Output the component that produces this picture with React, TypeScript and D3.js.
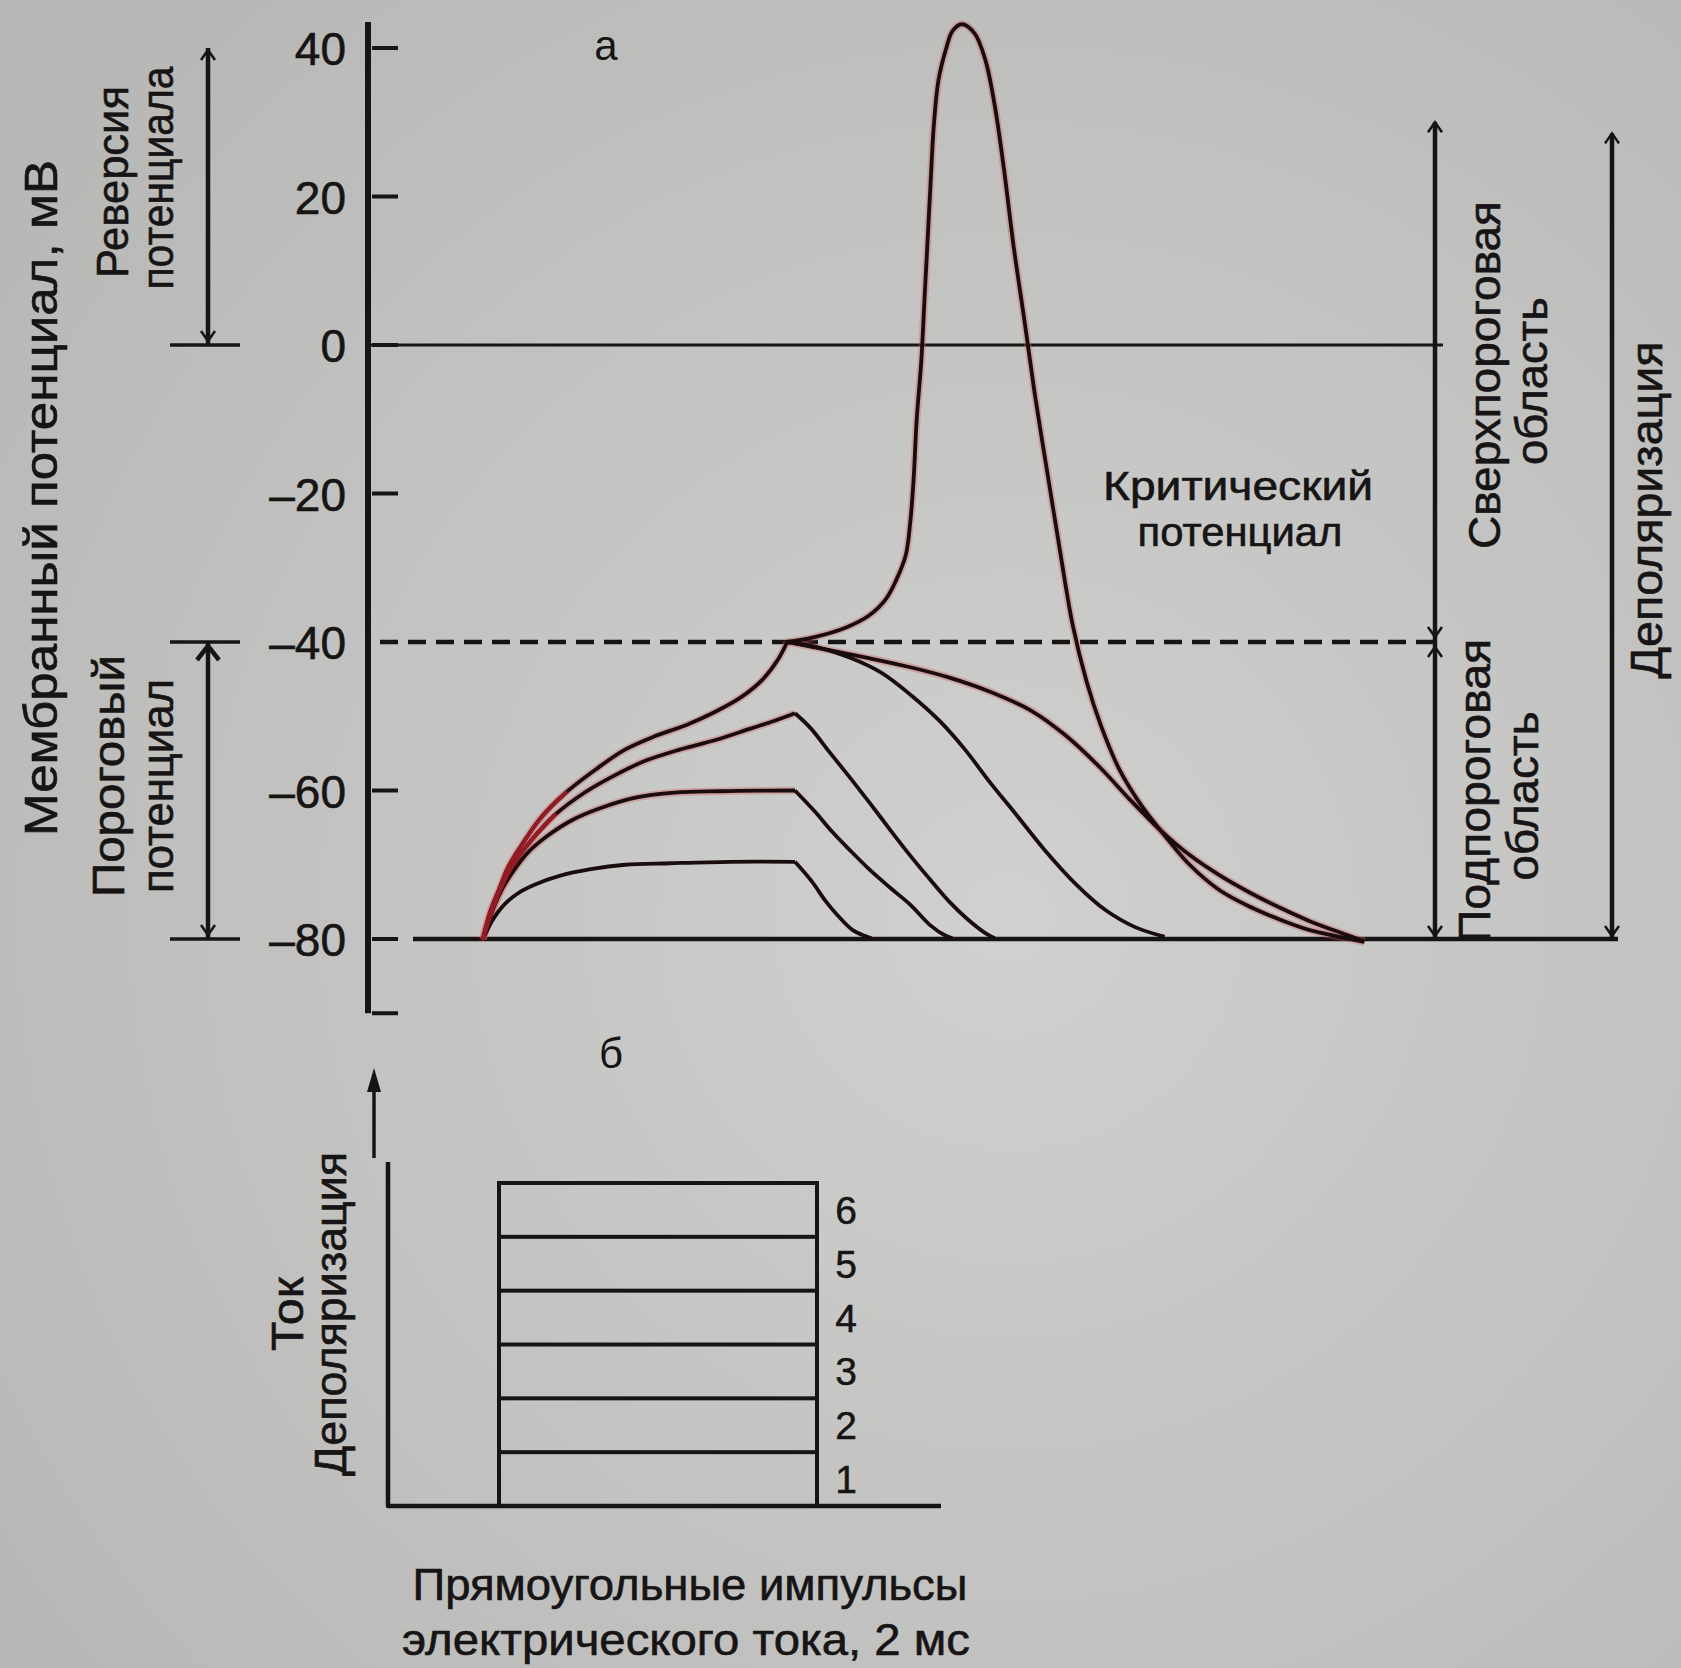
import React, { useEffect, useRef } from "react";
import * as d3 from "d3";

type Pt = [number, number];

// [time, ms ; membrane potential, mV]
const pulse1Rise: Pt[] = [[0, -80], [0.06, -77.5], [0.13, -75.5], [0.22, -73.9], [0.33, -72.7], [0.49, -71.5], [0.69, -70.6], [0.91, -70], [1.2, -69.8], [1.58, -69.6], [2.0, -69.6]];
const pulse1Fall: Pt[] = [[2.0, -69.6], [2.11, -72.3], [2.2, -75], [2.29, -77.2], [2.37, -78.8], [2.45, -79.6], [2.49, -79.9]];

const pulse2Rise: Pt[] = [[0, -80], [0.05, -76.8], [0.11, -73.8], [0.19, -71], [0.29, -68.3], [0.42, -66], [0.57, -64], [0.75, -62.4], [0.97, -61], [1.23, -60.3], [1.52, -60.1], [2.0, -60]];
const pulse2Fall: Pt[] = [[2.0, -60], [2.13, -62.9], [2.24, -65.6], [2.35, -68], [2.48, -70.7], [2.61, -73.1], [2.74, -75.4], [2.87, -78.2], [2.96, -79.5], [3.01, -79.9]];

const pulse3Rise: Pt[] = [[0, -80], [0.06, -76.1], [0.12, -72.9], [0.2, -69.8], [0.31, -66.7], [0.46, -63.3], [0.65, -60.3], [0.85, -57.9], [1.04, -56], [1.26, -54.5], [1.49, -53.2], [1.71, -51.7], [1.87, -50.6], [2.0, -49.6]];
const pulse3Fall: Pt[] = [[2.0, -49.6], [2.1, -51.6], [2.22, -54.8], [2.35, -58.2], [2.48, -61.7], [2.61, -65.3], [2.74, -68.8], [2.87, -72.1], [2.99, -75], [3.11, -77.4], [3.22, -79.2], [3.28, -79.9]];

// pulses 4-6 share the rise up to the critical level
const thresholdRise: Pt[] = [[0, -80], [0.045, -76.4], [0.1, -73.5], [0.16, -70.4], [0.24, -67.6], [0.37, -63.7], [0.53, -60.3], [0.72, -57.2], [0.91, -54.5], [1.1, -52.7], [1.3, -51.2], [1.47, -49.6], [1.65, -47.5], [1.79, -45.1], [1.89, -42.4], [1.95, -40]];
const pulse4Fall: Pt[] = [[1.95, -40], [2.16, -40.8], [2.35, -42.1], [2.55, -44.1], [2.74, -47.1], [2.93, -50.7], [3.09, -54.5], [3.25, -58.9], [3.42, -63.3], [3.6, -68], [3.8, -72.6], [3.99, -76.1], [4.18, -78.4], [4.37, -79.7]];
const pulse5Fall: Pt[] = [
  [1.95, -40], [2.22, -41.1], [2.48, -42.2], [2.74, -43.4], [2.99, -44.8], [3.25, -46.7], [3.51, -49.2],
  [3.73, -52.5], [3.96, -57], [4.15, -61.3], [4.34, -65.3], [4.53, -68.7], [4.72, -71.4], [4.92, -73.8],
  [5.11, -75.8], [5.3, -77.6], [5.49, -79.1], [5.65, -80.3],
];
const spike: Pt[] = [
  [1.95, -40], [2.13, -39.3], [2.32, -38.1], [2.47, -36.5], [2.58, -34.3], [2.65, -31.6], [2.71, -28.3],
  [2.74, -23.6], [2.76, -18.2], [2.78, -10.1], [2.81, -2], [2.83, 6.1], [2.85, 14.1], [2.87, 22.2],
  [2.89, 29.6], [2.92, 35.7], [2.97, 40], [3.01, 42.3], [3.07, 43.2], [3.15, 42], [3.22, 38.4],
  [3.28, 32.3], [3.34, 23.6], [3.4, 13.5], [3.47, 3.4], [3.54, -7], [3.62, -17.5], [3.7, -27.9],
  [3.78, -37.7], [3.87, -45.4], [3.96, -51.2], [4.08, -57.2], [4.21, -61.7], [4.34, -65.3],
  [4.53, -70], [4.72, -73.4], [4.92, -75.7], [5.11, -77.4], [5.3, -78.8], [5.49, -79.7], [5.65, -80.4],
];

const yTickLabels = [40, 20, 0, -20, -40, -60, -80];
const yTickMarks = [40, 20, 0, -20, -60, -80, -90];
const axisTop = 43.5;
const restingLevel = -80;
const criticalLevel = -40;
const zeroLevel = 0;

const reversalRange = [40, 0];
const thresholdRange = [-40, -80];
const supraRange = [30, -40];
const depolRange = [28.5, -80];

const currentLevels = [1, 2, 3, 4, 5, 6];
const pulseDuration = 2; // ms

const FONT = "'Liberation Sans', Arial, Helvetica, sans-serif";
const INK = "#161414";

const App = () => {
  const svgRef = useRef<SVGSVGElement>(null);

  useEffect(() => {
    const svg = d3.select(svgRef.current);
    svg.selectAll("*").remove();

    const defs = svg.append("defs");
    const grad = defs
      .append("radialGradient")
      .attr("id", "paper")
      .attr("cx", "60%")
      .attr("cy", "55%")
      .attr("r", "75%");
    grad.append("stop").attr("offset", "0%").attr("stop-color", "#d0d1cf");
    grad.append("stop").attr("offset", "100%").attr("stop-color", "#b7b8b6");

    svg.append("rect").attr("width", 1681).attr("height", 1668).attr("fill", "url(#paper)");

    const x = d3.scaleLinear().domain([0, 2]).range([483, 795]);
    const y = d3.scaleLinear().domain([-80, 40]).range([939, 48]);

    const axisX = 368;
    const lineRight = 1443;

    const g = svg.append("g").attr("font-family", FONT).attr("fill", INK);

    // y axis
    g.append("line")
      .attr("x1", axisX).attr("x2", axisX)
      .attr("y1", y(axisTop)).attr("y2", y(-90))
      .attr("stroke", INK).attr("stroke-width", 6);

    g.selectAll(".tick-mark")
      .data(yTickMarks)
      .join("line")
      .attr("x1", axisX + 4).attr("x2", axisX + 30)
      .attr("y1", (d) => y(d)).attr("y2", (d) => y(d))
      .attr("stroke", INK).attr("stroke-width", 4);

    const yAxis = d3
      .axisLeft(y)
      .tickValues(yTickLabels)
      .tickSize(0)
      .tickPadding(0)
      .tickFormat((d) => ((d as number) < 0 ? `–${-(d as number)}` : `${d}`));
    const ax = g.append("g").attr("transform", `translate(${axisX - 22},0)`).call(yAxis);
    ax.select(".domain").remove();
    ax.selectAll("text")
      .attr("font-size", 46)
      .attr("font-family", FONT)
      .attr("fill", INK)
      .attr("stroke", INK)
      .attr("stroke-width", 0.6)
      .attr("dy", "0.36em");

    // reference levels
    g.append("line")
      .attr("x1", axisX).attr("x2", lineRight)
      .attr("y1", y(zeroLevel)).attr("y2", y(zeroLevel))
      .attr("stroke", INK).attr("stroke-width", 3.2);
    g.append("line")
      .attr("x1", axisX + 12).attr("x2", lineRight)
      .attr("y1", y(criticalLevel)).attr("y2", y(criticalLevel))
      .attr("stroke", INK).attr("stroke-width", 4.5)
      .attr("stroke-dasharray", "18 10");
    g.append("line")
      .attr("x1", 413).attr("x2", 1618)
      .attr("y1", y(restingLevel)).attr("y2", y(restingLevel))
      .attr("stroke", INK).attr("stroke-width", 4.5);

    // traces
    const line = d3
      .line<Pt>()
      .x((d) => x(d[0]))
      .y((d) => y(d[1]))
      .curve(d3.curveCatmullRom.alpha(0.5));

    const haloed = [pulse2Rise, pulse3Rise, thresholdRise, pulse5Fall, spike];
    g.selectAll(".halo")
      .data(haloed)
      .join("path")
      .attr("d", (d) => line(d))
      .attr("fill", "none")
      .attr("stroke", "rgba(205,90,90,0.35)")
      .attr("stroke-width", 7.5);

    const traces = [
      pulse1Rise, pulse1Fall, pulse2Rise, pulse2Fall, pulse3Rise, pulse3Fall,
      thresholdRise, pulse4Fall, pulse5Fall, spike,
    ];
    g.selectAll(".trace")
      .data(traces)
      .join("path")
      .attr("d", (d) => line(d))
      .attr("fill", "none")
      .attr("stroke", "#1a0c0c")
      .attr("stroke-width", 3.8)
      .attr("stroke-linejoin", "round");

    // reddish print on the early rise of the stronger pulses
    g.selectAll(".red-rise")
      .data([thresholdRise.slice(0, 7), pulse3Rise.slice(0, 6)])
      .join("path")
      .attr("d", (d) => line(d))
      .attr("fill", "none")
      .attr("stroke", "#951a22")
      .attr("stroke-width", 4)
      .attr("stroke-linecap", "round");

    // double arrows
    const head = (hx: number, hy: number, dir: number, w = 7, h = 10, sw = 2.5) => {
      g.append("path")
        .attr("d", `M${hx - w},${hy + dir * h} L${hx},${hy} L${hx + w},${hy + dir * h}`)
        .attr("fill", "none")
        .attr("stroke", INK)
        .attr("stroke-width", sw);
    };
    const vArrow = (ax0: number, range: number[], sw = 4.5) => {
      g.append("line")
        .attr("x1", ax0).attr("x2", ax0)
        .attr("y1", y(range[0])).attr("y2", y(range[1]))
        .attr("stroke", INK).attr("stroke-width", sw);
    };

    const leftX = 208;
    vArrow(leftX, reversalRange);
    head(leftX, y(reversalRange[0]) + 2, 1);
    head(leftX, y(reversalRange[1]) - 4, -1);
    vArrow(leftX, thresholdRange);
    head(leftX, y(thresholdRange[0]) + 4, 1, 11, 14, 4.5);
    head(leftX, y(thresholdRange[1]) - 4, -1);
    [reversalRange[1], thresholdRange[0], thresholdRange[1]].forEach((v) => {
      g.append("line")
        .attr("x1", 170).attr("x2", 240)
        .attr("y1", y(v)).attr("y2", y(v))
        .attr("stroke", INK).attr("stroke-width", 3.5);
    });

    const supraX = 1435;
    vArrow(supraX, [supraRange[0], restingLevel]);
    head(supraX, y(supraRange[0]), 1);
    head(supraX, y(supraRange[1]) - 5, -1);
    head(supraX, y(supraRange[1]) + 5, 1);
    head(supraX, y(restingLevel) - 3, -1);

    const depolX = 1612;
    vArrow(depolX, depolRange);
    head(depolX, y(depolRange[0]), 1);
    head(depolX, y(depolRange[1]) - 3, -1);

    // labels
    const vtext = (bx: number, cy: number, str: string, len: number, size = 44) => {
      g.append("text")
        .attr("transform", `translate(${bx},${cy}) rotate(-90)`)
        .attr("text-anchor", "middle")
        .attr("font-size", size)
        .attr("stroke", INK)
        .attr("stroke-width", 0.6)
        .attr("textLength", len)
        .attr("lengthAdjust", "spacingAndGlyphs")
        .text(str);
    };
    const htext = (cx: number, by: number, str: string, len: number, size = 44) => {
      g.append("text")
        .attr("x", cx)
        .attr("y", by)
        .attr("text-anchor", "middle")
        .attr("font-size", size)
        .attr("stroke", INK)
        .attr("stroke-width", 0.6)
        .attr("textLength", len)
        .attr("lengthAdjust", "spacingAndGlyphs")
        .text(str);
    };

    vtext(57, 498, "Мембранный потенциал, мВ", 676, 46);
    vtext(128, 182, "Реверсия", 192);
    vtext(173, 178, "потенциала", 223);
    vtext(124, 776, "Пороговый", 242);
    vtext(173, 786, "потенциал", 214);

    vtext(1500, 375, "Сверхпороговая", 348);
    vtext(1547, 381, "область", 168);
    vtext(1490, 791, "Подпороговая", 304);
    vtext(1538, 796, "область", 169);
    vtext(1662, 510, "Деполяризация", 337);

    htext(1238, 500, "Критический", 270, 41);
    htext(1240, 546, "потенциал", 205, 41);

    g.append("text").attr("x", 606).attr("y", 60).attr("text-anchor", "middle").attr("font-size", 42).text("а");
    g.append("text").attr("x", 611).attr("y", 1068).attr("text-anchor", "middle").attr("font-size", 42).text("б");

    // panel б: rectangular current pulses
    const xb = d3.scaleLinear().domain([0, pulseDuration]).range([499, 817]);
    const yb = d3.scaleLinear().domain([0, 6]).range([1506, 1183]);

    g.selectAll(".pulse")
      .data(currentLevels)
      .join("rect")
      .attr("x", xb(0))
      .attr("y", (d) => yb(d))
      .attr("width", xb(pulseDuration) - xb(0))
      .attr("height", (d) => yb(0) - yb(d))
      .attr("fill", "none")
      .attr("stroke", INK)
      .attr("stroke-width", 4);

    g.selectAll(".pulse-label")
      .data(currentLevels)
      .join("text")
      .attr("x", 846)
      .attr("y", (d) => yb(d - 0.5))
      .attr("dy", "0.36em")
      .attr("text-anchor", "middle")
      .attr("font-size", 39)
      .attr("stroke", INK)
      .attr("stroke-width", 0.5)
      .text((d) => d);

    g.append("path")
      .attr("d", `M388,1162 L388,${yb(0)} L941,${yb(0)}`)
      .attr("fill", "none")
      .attr("stroke", INK)
      .attr("stroke-width", 4.5)
      .attr("stroke-linejoin", "round");

    g.append("line")
      .attr("x1", 374).attr("x2", 374)
      .attr("y1", 1158).attr("y2", 1086)
      .attr("stroke", INK).attr("stroke-width", 3.5);
    g.append("path").attr("d", "M374,1068 L367,1092 L381,1092 Z").attr("fill", INK);

    vtext(303, 1314, "Ток", 74);
    vtext(346, 1314, "Деполяризация", 324);

    htext(690, 1600, "Прямоугольные импульсы", 555);
    htext(686, 1655, "электрического тока, 2 мс", 568);
  }, []);

  return (
    <svg
      ref={svgRef}
      width={1681}
      height={1668}
      style={{ position: "absolute", left: 0, top: 0 }}
    />
  );
};

export default App;
